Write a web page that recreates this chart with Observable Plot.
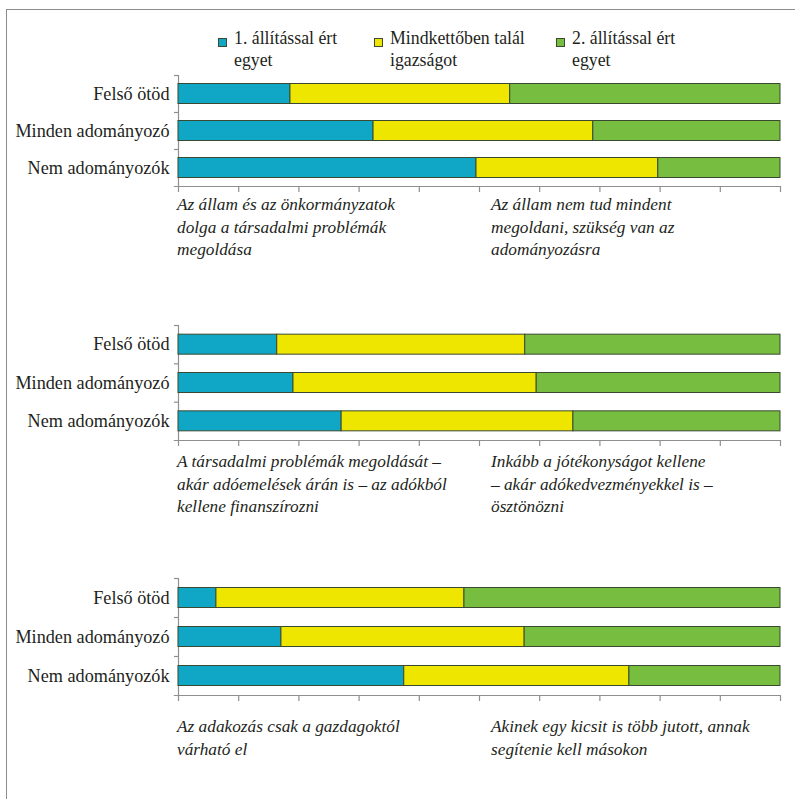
<!DOCTYPE html>
<html>
<head>
<meta charset="utf-8">
<script src="https://cdn.jsdelivr.net/npm/d3@7"></script>
<script src="https://cdn.jsdelivr.net/npm/@observablehq/plot@0.6"></script>
<style>
  html, body { margin: 0; padding: 0; background: #fff; }
  #root { position: relative; width: 795px; height: 799px; overflow: hidden; font-family: "Liberation Serif", "Times New Roman", "DejaVu Serif", serif; color: #231f20; }
  .frame-top { position: absolute; left: 6px; top: 9px; width: 789px; height: 0; border-top: 1.5px solid #8c8c8c; }
  .frame-left { position: absolute; left: 6px; top: 9px; width: 0; height: 790px; border-left: 1.5px solid #8c8c8c; }
  .panel { position: absolute; left: 0; }
  .note { position: absolute; font-style: italic; font-size: 17.3px; line-height: 22.5px; white-space: nowrap; }
  .leg { position: absolute; font-size: 17.8px; line-height: 22px; white-space: nowrap; }
  .sw { position: absolute; width: 7px; height: 7px; border: 1px solid #3c4a30; }
</style>
</head>
<body>
<div id="root">
  <div class="frame-top"></div>
  <div class="frame-left"></div>
</div>
<script>
// ---- data ----
const categories = ["Felső ötöd", "Minden adományozó", "Nem adományozók"];
const answers = ["1. állítással ért egyet", "Mindkettőben talál igazságot", "2. állítással ért egyet"];
const legendLines = [["1. állítással ért", "egyet"], ["Mindkettőben talál", "igazságot"], ["2. állítással ért", "egyet"]];
const colors = ["#10a7c6", "#efe600", "#77bd3f"];

// panel 1
const p1Stmt1 = [18.6, 32.4, 49.5];
const p1Both  = [36.5, 36.5, 30.2];
const p1Stmt2 = [44.9, 31.1, 20.3];
const p1Left  = ["Az állam és az önkormányzatok", "dolga a társadalmi problémák", "megoldása"];
const p1Right = ["Az állam nem tud mindent", "megoldani, szükség van az", "adományozásra"];
// panel 2
const p2Stmt1 = [16.4, 19.1, 27.1];
const p2Both  = [41.2, 40.4, 38.5];
const p2Stmt2 = [42.4, 40.5, 34.4];
const p2Left  = ["A társadalmi problémák megoldását –", "akár adóemelések árán is – az adókból", "kellene finanszírozni"];
const p2Right = ["Inkább a jótékonyságot kellene", "– akár adókedvezményekkel is –", "ösztönözni"];
// panel 3
const p3Stmt1 = [6.3, 17.1, 37.5];
const p3Both  = [41.2, 40.4, 37.4];
const p3Stmt2 = [52.5, 42.5, 25.1];
const p3Left  = ["Az adakozás csak a gazdagoktól", "várható el"];
const p3Right = ["Akinek egy kicsit is több jutott, annak", "segítenie kell másokon"];

const xTicks = [0, 10, 20, 30, 40, 50, 60, 70, 80, 90, 100];

// ---- layout ----
const root = document.getElementById("root");
const panels = [
  {s: [p1Stmt1, p1Both, p1Stmt2], left: p1Left, right: p1Right, top: 75, bottom: 186, noteTop: 194},
  {s: [p2Stmt1, p2Both, p2Stmt2], left: p2Left, right: p2Right, top: 325, bottom: 440, noteTop: 451},
  {s: [p3Stmt1, p3Both, p3Stmt2], left: p3Left, right: p3Right, top: 578, bottom: 695, noteTop: 716}
];
const mTop = 4, mBottom = 10, barH = 20;
const axisColor = "#8f8f8f";
const font = "'Liberation Serif', 'Times New Roman', 'DejaVu Serif', serif";

panels.forEach(p => {
  const rows = [];
  categories.forEach((c, i) => {
    answers.forEach((a, k) => rows.push({cat: c, idx: i, answer: a, value: p.s[k][i]}));
  });
  const inner = p.bottom - p.top;
  const band = inner / categories.length;
  const inset = (band - barH) / 2;
  const chart = Plot.plot({
    width: 795,
    height: inner + mTop + mBottom,
    marginTop: mTop,
    marginBottom: mBottom,
    marginLeft: 178,
    marginRight: 15,
    x: {domain: [0, 100], axis: null, label: null},
    y: {domain: [0, categories.length], reverse: true, axis: null, label: null},
    color: {domain: answers, range: colors},
    style: {fontFamily: font, background: "transparent", overflow: "visible"},
    marks: [
      Plot.axisX({ticks: xTicks, tickSize: 6, tickFormat: () => "", label: null, stroke: axisColor, strokeWidth: 1.2, strokeOpacity: 1}),
      Plot.axisY({ticks: d3.range(categories.length), tickSize: 4, tickFormat: () => "", label: null, stroke: axisColor, strokeWidth: 1.2, strokeOpacity: 1}),
      Plot.ruleX([0], {y1: 0, y2: categories.length, stroke: axisColor, strokeWidth: 1.2}),
      Plot.ruleY([categories.length], {x1: -0.7, x2: 100, stroke: axisColor, strokeWidth: 1.2}),
      Plot.rectX(rows, {x: "value", y1: "idx", y2: d => d.idx + 1, fill: "answer", stroke: "#3a4930", strokeWidth: 1, insetTop: inset, insetBottom: inset}),
      Plot.text(categories, {x: 0, y: (d, i) => i + 0.5, text: d => d, textAnchor: "end", dx: -9, fontSize: 18.2, fill: "#231f20", fontFamily: font})
    ]
  });
  chart.classList.add("panel");
  chart.style.top = (p.top - mTop) + "px";
  root.appendChild(chart);

  const l = document.createElement("div");
  l.className = "note";
  l.style.left = "177px"; l.style.top = p.noteTop + "px";
  l.innerHTML = p.left.join("<br>");
  root.appendChild(l);
  const r = document.createElement("div");
  r.className = "note";
  r.style.left = "491px"; r.style.top = p.noteTop + "px";
  r.innerHTML = p.right.join("<br>");
  root.appendChild(r);
});

// ---- legend ----
const legX = [218, 374, 556];
legendLines.forEach((lines, k) => {
  const sw = document.createElement("div");
  sw.className = "sw";
  sw.style.left = legX[k] + "px"; sw.style.top = "38px";
  sw.style.background = colors[k];
  root.appendChild(sw);
  const t = document.createElement("div");
  t.className = "leg";
  t.style.left = (legX[k] + 16) + "px"; t.style.top = "27px";
  t.innerHTML = lines.join("<br>");
  root.appendChild(t);
});
</script>
</body>
</html>
